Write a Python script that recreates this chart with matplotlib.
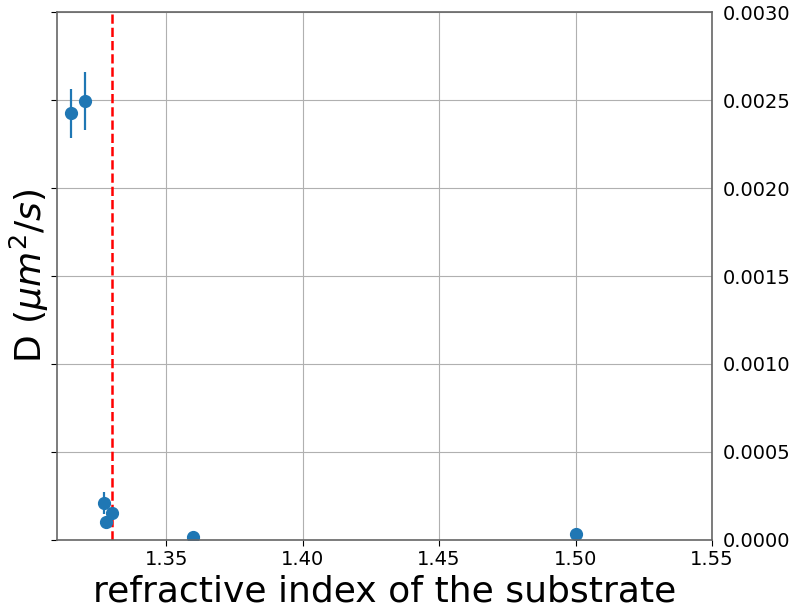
import matplotlib
matplotlib.use("Agg")
import matplotlib.pyplot as plt

# Diffusion coefficient vs substrate refractive index
n_substrate = [1.3151, 1.3202, 1.3272, 1.3300, 1.3279, 1.3600, 1.5000]
diff_coef = [0.002426, 0.002494, 0.000210, 0.000155, 0.000100, 0.000015, 0.000034]
diff_err = [0.000140, 0.000165, 0.000060, 0.000020, 0.000015, 0.000005, 0.000005]
n_water = 1.33

xticks = [1.35, 1.40, 1.45, 1.50, 1.55]
yticks = [0.0, 0.0005, 0.0010, 0.0015, 0.0020, 0.0025, 0.0030]

fig, ax = plt.subplots(figsize=(7.92, 6.08), dpi=100)
fig.subplots_adjust(left=0.072, right=0.899, top=0.980, bottom=0.112)

ax.errorbar(n_substrate, diff_coef, yerr=diff_err, fmt="o", color="#1f77b4",
            markersize=8.5, elinewidth=1.6, capsize=0)
ax.axvline(n_water, color="red", linestyle="--", linewidth=1.8)

ax.set_xlim(1.31, 1.55)
ax.set_ylim(0, 0.003)
ax.set_xticks(xticks)
ax.set_yticks(yticks)
ax.set_xticklabels([f"{v:.2f}" for v in xticks])
ax.set_yticklabels([f"{v:.4f}" for v in yticks])
ax.tick_params(axis="y", left=True, right=False, labelleft=False, labelright=True,
               labelsize=14, length=4)
ax.tick_params(axis="x", labelsize=14, length=4)
ax.grid(True, color="#b0b0b0", linewidth=0.8)
ax.set_axisbelow(True)
for sp in ax.spines.values():
    sp.set_color("#666666")
    sp.set_linewidth(1.2)

ax.set_xlabel("refractive index of the substrate", fontsize=26)
ax.set_ylabel(r"D ($\mu m^2/s$)", fontsize=26, labelpad=0)

fig.savefig("out.png", dpi=100)
